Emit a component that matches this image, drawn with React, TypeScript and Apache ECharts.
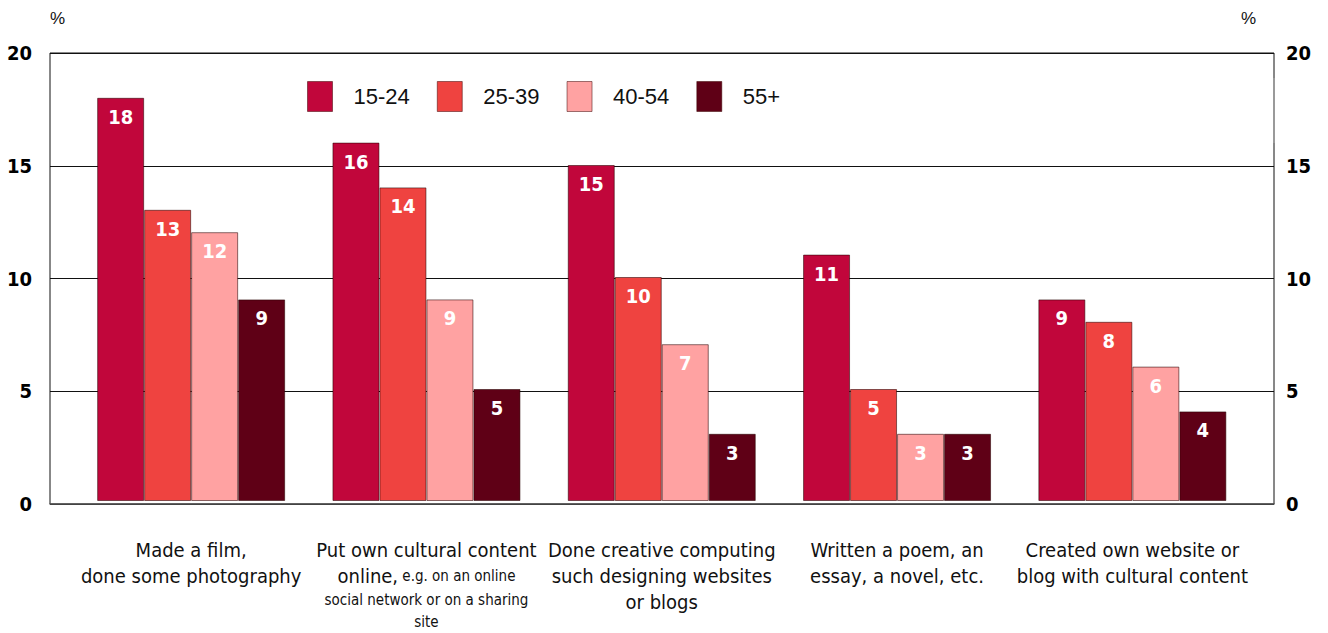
import React, { useEffect, useRef } from "react";
import * as echarts from "echarts";

// Share of respondents who did a creative activity, by age band (%)
const categories = [
  "Made a film,\ndone some photography",
  "{a|Put own cultural content}\n{a|online,}{b| e.g. on an online}\n{b|social network or on a sharing}\n{b|site}",
  "Done creative computing\nsuch designing websites\nor blogs",
  "Written a poem, an\nessay, a novel, etc.",
  "Created own website or\nblog with cultural content",
];
const ageGroups = ["15-24", "25-39", "40-54", "55+"];
const age15to24 = [18, 16, 15, 11, 9];
const age25to39 = [13, 14, 10, 5, 8];
const age40to54 = [12, 9, 7, 3, 6];
const age55plus = [9, 5, 3, 3, 4];
const groupValues = [age15to24, age25to39, age40to54, age55plus];
const groupColors = ["#C1063B", "#EF4340", "#FFA2A2", "#5F0016"];

const narrow = "'DejaVu Sans Condensed', 'DejaVu Sans', sans-serif";
const plain = "'Liberation Sans', Arial, sans-serif";

export default function App() {
  const ref = useRef<HTMLDivElement>(null);

  useEffect(() => {
    if (!ref.current) return;
    const chart = echarts.init(ref.current, undefined, { renderer: "svg" });

    const frameTop = 53;
    const frameHeight = 451;

    // heavy tick numbers on both value axes
    const tickLabel = {
      formatter: (v: number) => `{t|${v}}`,
      rich: {
        t: {
          fontSize: 20,
          fontWeight: "bold",
          color: "#000",
          fontFamily: narrow,
        },
      },
    };

    const series = ageGroups.map((name, i) => ({
      name,
      type: "bar",
      xAxisIndex: 1,
      yAxisIndex: 2,
      data: groupValues[i],
      barWidth: 47,
      barGap: "0%",
      itemStyle: {
        color: groupColors[i],
        borderColor: "rgba(40,0,0,0.55)",
        borderWidth: 1,
      },
      label: {
        show: true,
        position: "insideTop",
        distance: 9,
        color: "#fff",
        fontWeight: "bold",
        fontSize: 20,
        fontFamily: narrow,
      },
    }));

    chart.setOption({
      animation: false,
      backgroundColor: "#fff",
      legend: {
        data: ageGroups,
        left: 302,
        top: 76,
        icon: "rect",
        itemWidth: 25,
        itemHeight: 30,
        itemGap: 27,
        itemStyle: { borderColor: "rgba(60,0,0,0.5)", borderWidth: 1 },
        textStyle: {
          fontSize: 22,
          color: "#111",
          fontFamily: plain,
          padding: [0, 0, 0, 16],
        },
      },
      grid: [
        {
          left: 50,
          width: 1224,
          top: frameTop,
          height: frameHeight,
          show: true,
          borderColor: "#111",
          borderWidth: 1,
        },
        {
          left: 73.5,
          width: 1176.5,
          top: frameTop,
          height: frameHeight,
        },
      ],
      xAxis: [
        {
          type: "category",
          gridIndex: 0,
          data: ["", ""],
          axisLine: { show: true, lineStyle: { color: "#555", width: 1.5 } },
          axisTick: { show: false },
          axisLabel: { show: false },
        },
        {
          type: "category",
          gridIndex: 1,
          data: categories,
          axisLine: { show: false },
          axisTick: { show: false },
          axisLabel: {
            interval: 0,
            margin: 36,
            fontSize: 20,
            lineHeight: 26,
            color: "#111",
            fontFamily: narrow,
            rich: {
              a: { fontSize: 20, lineHeight: 26, color: "#111", fontFamily: narrow },
              b: { fontSize: 15, lineHeight: 22, color: "#111", fontFamily: narrow },
            },
          },
        },
      ],
      yAxis: [
        {
          type: "value",
          gridIndex: 0,
          position: "left",
          min: 0,
          max: 20,
          interval: 5,
          name: "%",
          nameLocation: "end",
          nameGap: 26,
          nameTextStyle: {
            fontSize: 17,
            color: "#111",
            align: "left",
            fontFamily: plain,
          },
          axisLine: { show: false },
          axisTick: { show: false },
          axisLabel: { margin: 18, ...tickLabel },
          splitLine: { show: true, lineStyle: { color: "#111", width: 1 } },
        },
        {
          type: "value",
          gridIndex: 0,
          position: "right",
          min: 0,
          max: 20,
          interval: 5,
          name: "%",
          nameLocation: "end",
          nameGap: 26,
          nameTextStyle: {
            fontSize: 17,
            color: "#111",
            align: "right",
            padding: [0, 18, 0, 0],
            fontFamily: plain,
          },
          axisLine: { show: false },
          axisTick: { show: false },
          axisLabel: { margin: 12, ...tickLabel },
          splitLine: { show: false },
        },
        {
          type: "value",
          gridIndex: 1,
          min: 0,
          max: 20,
          show: false,
          splitLine: { show: false },
        },
      ],
      graphic: [
        {
          type: "line",
          shape: { x1: 1274, y1: 78, x2: 1274, y2: 143 },
          style: { stroke: "#9a9a9a", lineWidth: 2 },
          z: 100,
        },
      ],
      series,
    });

    return () => chart.dispose();
  }, []);

  return (
    <div
      ref={ref}
      style={{ position: "fixed", left: 0, top: 0, width: 1328, height: 633 }}
    />
  );
}
